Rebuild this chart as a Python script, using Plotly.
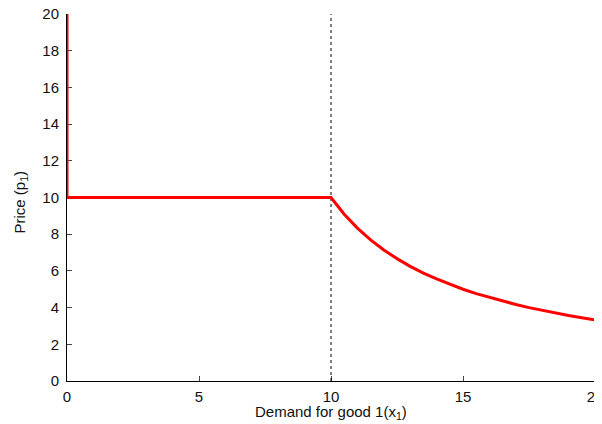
import plotly.graph_objects as go

# Demand curve
demand_x = [0, 0, 10, 10.5, 11, 11.5, 12, 12.5, 13, 13.5, 14, 14.5, 15,
            15.5, 16, 16.5, 17, 17.5, 18, 18.5, 19, 19.5, 20]
price_y = [20, 10, 10, 9.09, 8.33, 7.69, 7.14, 6.67, 6.25, 5.88, 5.56, 5.26, 5.0,
           4.76, 4.55, 4.35, 4.17, 4.0, 3.85, 3.70, 3.57, 3.45, 3.33]

kink_x = [10, 10]
kink_y = [0, 20]

x_ticks = [0, 5, 10, 15, 20]
y_ticks = [0, 2, 4, 6, 8, 10, 12, 14, 16, 18, 20]

fig = go.Figure()
fig.add_trace(go.Scatter(x=kink_x, y=kink_y, mode="lines",
                         line=dict(color="black", width=1, dash="dot"),
                         showlegend=False, hoverinfo="skip"))
fig.add_trace(go.Scatter(x=demand_x, y=price_y, mode="lines",
                         line=dict(color="#ff0000", width=3),
                         cliponaxis=False, showlegend=False))

font = dict(family="Liberation Sans, Arial, sans-serif", size=15, color="#111111")
fig.update_layout(
    width=594, height=416,
    margin=dict(l=59, r=7, t=6, b=43),
    paper_bgcolor="white", plot_bgcolor="white",
    font=font,
    xaxis=dict(range=[0, 20], tickvals=x_ticks, ticks="inside", ticklen=5,
               showline=True, linecolor="black", linewidth=1, showgrid=False,
               zeroline=False, mirror=False, layer="below traces",
               ticklabeloverflow="allow", automargin=False,
               ticklabelstandoff=2),
    yaxis=dict(range=[0, 20], tickvals=y_ticks, ticks="inside", ticklen=5,
               showline=True, linecolor="black", linewidth=1, showgrid=False,
               zeroline=False, mirror=False, layer="below traces",
               ticklabeloverflow="allow", automargin=False,
               ticklabelstandoff=4),
    annotations=[
        dict(text="Demand for good 1(x<sub>1</sub>)", xref="paper", yref="paper",
             x=0.5, y=0, xanchor="center", yanchor="middle", yshift=-31,
             showarrow=False, font=dict(size=15)),
        dict(text="Price (p<sub>1</sub>)", xref="paper", yref="paper",
             x=0, y=0.5, xanchor="center", yanchor="middle", xshift=-47,
             yshift=-5, textangle=-90, showarrow=False, font=dict(size=15)),
    ],
)
fig.write_html("out.html")
